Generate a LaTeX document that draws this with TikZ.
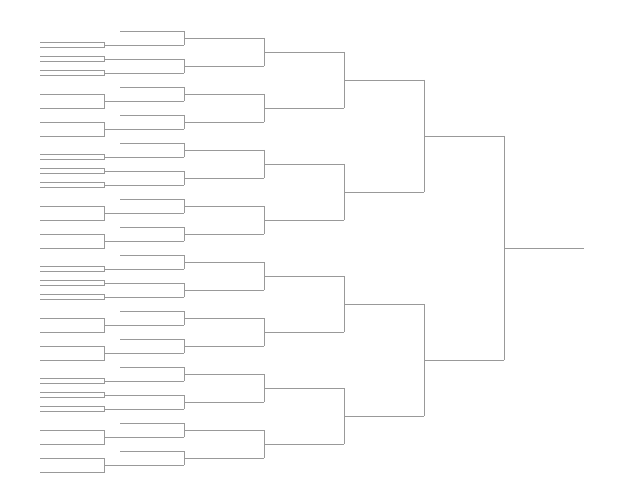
\documentclass[tikz,border=0pt]{standalone}
\begin{document}
\begin{tikzpicture}[x=1pt,y=-1pt,line/.style={draw=black!40,line width=0.9pt}]
\useasboundingbox (0,0) rectangle (641,495);
% first round and byes
\foreach \b in {0,...,3}{
  \pgfmathsetmacro{\o}{31+112*\b}
  \foreach \k in {0,4,6}{
    \pgfmathsetmacro{\y}{\o+14*\k}
    \draw[line] (120,\y) -- (184,\y);
  }
  \foreach \k/\d in {1/2.4,2/2.4,3/2.4,5/7,7/7}{
    \pgfmathsetmacro{\y}{\o+14*\k}
    \draw[line] (40,\y-\d) -- (104,\y-\d) -- (104,\y+\d) -- (40,\y+\d);
    \draw[line] (104,\y) -- (184,\y);
  }
}
% later rounds
\foreach \x/\s/\n/\f in {184/14/15/31,264/28/7/38,344/56/3/52,424/112/1/80,504/224/0/136}{
  \foreach \j in {0,...,\n}{
    \pgfmathsetmacro{\ya}{\f+2*\s*\j}
    \pgfmathsetmacro{\yb}{\ya+\s}
    \pgfmathsetmacro{\ym}{\ya+\s/2}
    \draw[line] (\x,\ya) -- (\x,\yb);
    \draw[line] (\x,\ym) -- (\x+80,\ym);
  }
}
\end{tikzpicture}
\end{document}
